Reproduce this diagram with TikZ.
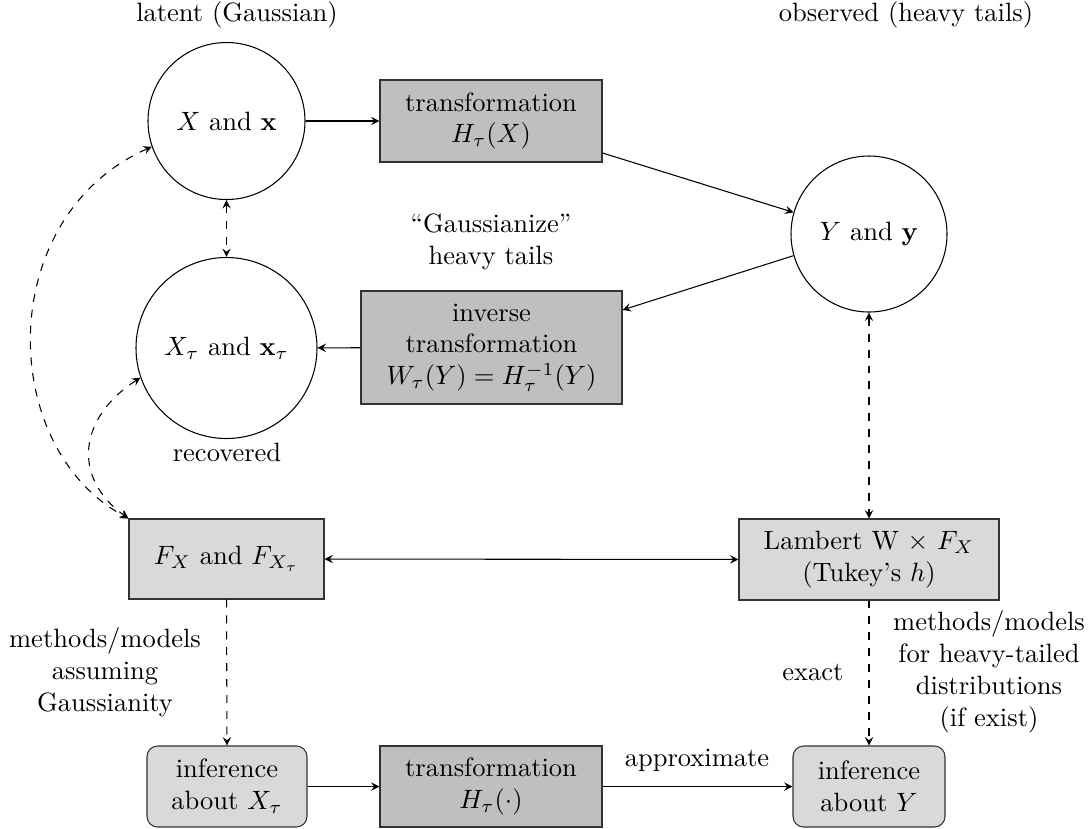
\documentclass[tikz,border=0pt]{standalone}
\newdimen\pxu \pxu=0.3774pt
\begin{document}
\begin{tikzpicture}[x=0.3774pt,y=-0.3774pt,>=stealth,
  circ/.style={circle,draw,inner sep=1pt},
  darkbox/.style={rectangle,draw=black!80,fill=gray!50,align=center,inner sep=2pt},
  lightbox/.style={rectangle,draw=black!80,fill=gray!30,align=center,inner sep=2pt},
  roundbox/.style={lightbox,rounded corners=4pt},
  lbl/.style={align=center,inner sep=0pt}]
\useasboundingbox (0,0) rectangle (1091,828);
% main nodes
\node[circ,minimum size=157\pxu] (X) at (226.5,121) {$X$ and $\mathbf{x}$};
\node[circ,minimum size=181\pxu] (Xt) at (226.5,348) {$X_\tau$ and $\mathbf{x}_\tau$};
\node[circ,minimum size=156\pxu] (Y) at (869,234) {$Y$ and $\mathbf{y}$};
\node[darkbox,minimum width=222\pxu,minimum height=82\pxu] (H) at (491,121) {transformation\\$H_\tau(X)$};
\node[darkbox,minimum width=261\pxu,minimum height=113\pxu] (W) at (491.5,347.5) {inverse\\transformation\\$W_\tau(Y) = H_\tau^{-1}(Y)$};
\node[lightbox,minimum width=195\pxu,minimum height=80\pxu] (F) at (226.5,559) {$F_X$ and $F_{X_\tau}$};
\node[lightbox,minimum width=260\pxu,minimum height=81\pxu] (L) at (869,559.5) {Lambert W $\times$ $F_X$\\(Tukey's $h$)};
\node[roundbox,minimum width=160\pxu,minimum height=81\pxu] (iX) at (227,786.5) {inference\\about $X_\tau$};
\node[darkbox,minimum width=222\pxu,minimum height=81\pxu] (Hd) at (491,786.5) {transformation\\$H_\tau(\cdot)$};
\node[roundbox,minimum width=152\pxu,minimum height=81\pxu] (iY) at (869,786.5) {inference\\about $Y$};
% text labels
\node[lbl] (lat) at (237,15) {latent (Gaussian)};
\node[lbl] (obs) at (906,15) {observed (heavy tails)};
\node[lbl] (gz) at (491,242) {``Gaussianize''\\heavy tails};
\node[lbl] (rec) at (227,452) {recovered};
\node[lbl] (mg) at (105,672) {methods/models\\assuming\\Gaussianity};
\node[lbl] (ex) at (813,672) {exact};
\node[lbl] (mh) at (989,672) {methods/models\\for heavy-tailed\\distributions\\(if exist)};
\node[lbl] (ap) at (697,760) {approximate};
% connectors
\draw[->] (X) -- (H);
\draw[->] (H.-16.6) -- (Y.164);
\draw[->] (Y.196.8) -- (W.16.7);
\draw[->] (W) -- (Xt);
\draw[<->,dashed] (X) -- (Xt);
\draw[<->,dashed] (Y) -- (L);
\draw[<->] (F) -- (L);
\draw[->,dashed] (F) -- (iX);
\draw[->,dashed] (L) -- (iY);
\draw[->] (iX) -- (Hd);
\draw[->] (Hd) -- (iY);
\draw[<->,dashed] (X.199.4) .. controls (-6,217) and (-3,447) .. (F.north west);
\draw[<->,dashed] (Xt.199.1) .. controls (78,418) and (72,478) .. (F.north west);
\end{tikzpicture}
\end{document}
